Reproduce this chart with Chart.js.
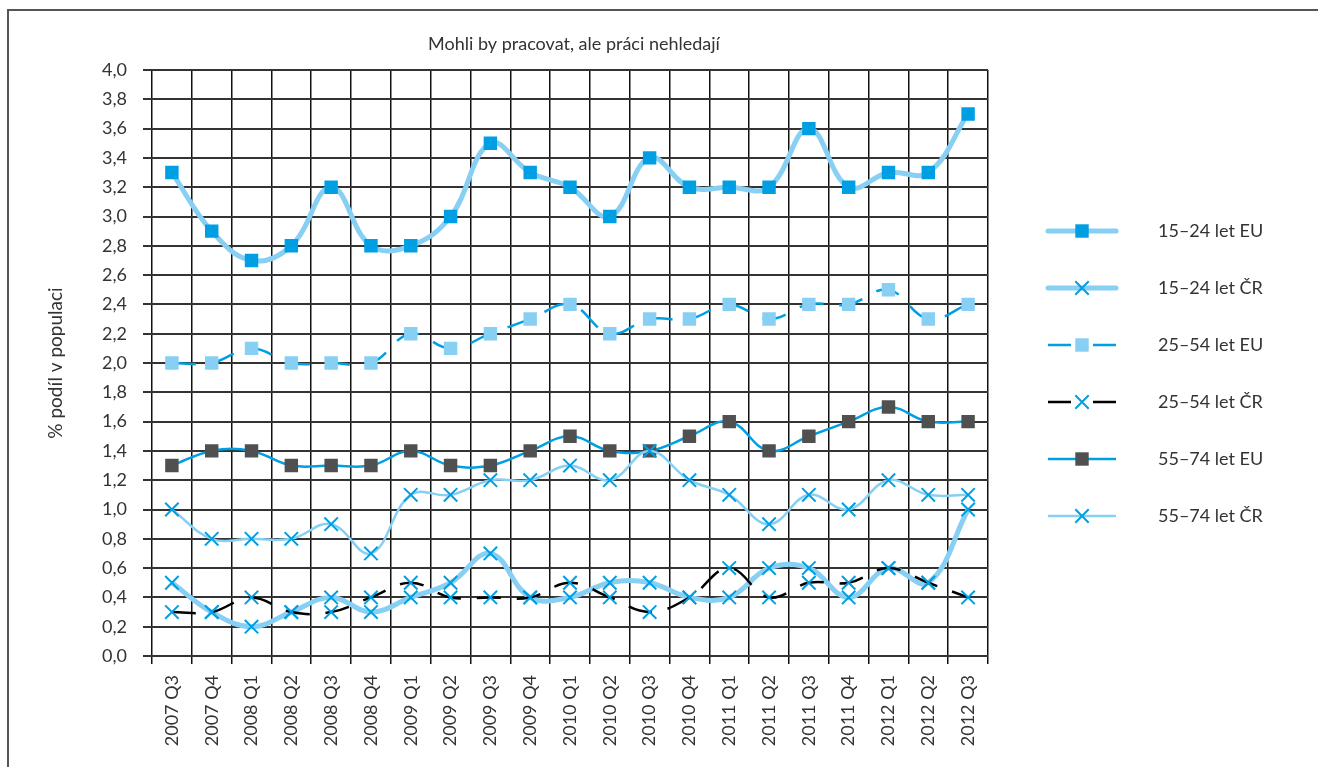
<!DOCTYPE html>
<html lang="cs">
<head>
<meta charset="utf-8">
<title>Mohli by pracovat, ale práci nehledají</title>
<script src="https://cdn.jsdelivr.net/npm/chart.js@4/dist/chart.umd.min.js"></script>
<style>
  html, body { margin: 0; padding: 0; background: #fff; }
  #wrap { width: 1318px; height: 767px; }
</style>
</head>
<body>
<div id="wrap"><canvas id="chart" width="1318" height="767"></canvas></div>
<script>
const quarters = [
  '2007 Q3', '2007 Q4', '2008 Q1', '2008 Q2', '2008 Q3', '2008 Q4',
  '2009 Q1', '2009 Q2', '2009 Q3', '2009 Q4', '2010 Q1', '2010 Q2',
  '2010 Q3', '2010 Q4', '2011 Q1', '2011 Q2', '2011 Q3', '2011 Q4',
  '2012 Q1', '2012 Q2', '2012 Q3'
];

const eu1524 = [3.3, 2.9, 2.7, 2.8, 3.2, 2.8, 2.8, 3.0, 3.5, 3.3, 3.2, 3.0, 3.4, 3.2, 3.2, 3.2, 3.6, 3.2, 3.3, 3.3, 3.7];
const cr1524 = [0.5, 0.3, 0.2, 0.3, 0.4, 0.3, 0.4, 0.5, 0.7, 0.4, 0.4, 0.5, 0.5, 0.4, 0.4, 0.6, 0.6, 0.4, 0.6, 0.5, 1.0];
const eu2554 = [2.0, 2.0, 2.1, 2.0, 2.0, 2.0, 2.2, 2.1, 2.2, 2.3, 2.4, 2.2, 2.3, 2.3, 2.4, 2.3, 2.4, 2.4, 2.5, 2.3, 2.4];
const cr2554 = [0.3, 0.3, 0.4, 0.3, 0.3, 0.4, 0.5, 0.4, 0.4, 0.4, 0.5, 0.4, 0.3, 0.4, 0.6, 0.4, 0.5, 0.5, 0.6, 0.5, 0.4];
const eu5574 = [1.3, 1.4, 1.4, 1.3, 1.3, 1.3, 1.4, 1.3, 1.3, 1.4, 1.5, 1.4, 1.4, 1.5, 1.6, 1.4, 1.5, 1.6, 1.7, 1.6, 1.6];
const cr5574 = [1.0, 0.8, 0.8, 0.8, 0.9, 0.7, 1.1, 1.1, 1.2, 1.2, 1.3, 1.2, 1.4, 1.2, 1.1, 0.9, 1.1, 1.0, 1.2, 1.1, 1.1];

const seriesNames = ['15–24 let EU', '15–24 let ČR', '25–54 let EU', '25–54 let ČR', '55–74 let EU', '55–74 let ČR'];

const BLUE = '#009fe3';
const LIGHT = '#88cff4';
const GRAY = '#505050';
const TEXT = '#333';
const FONT = 'Lato, "Open Sans", sans-serif';
const DASH = [24, 16];

function series(i, data, line, width, style, fill, dash) {
  return {
    label: seriesNames[i],
    data: data,
    borderColor: line,
    borderWidth: width,
    borderDash: dash || [],
    tension: 0.4,
    fill: false,
    pointStyle: style,
    pointRadius: 9.5,
    pointHoverRadius: 9.5,
    pointBackgroundColor: style === 'rect' ? fill : 'rgba(0,0,0,0)',
    pointBorderColor: style === 'rect' ? fill : BLUE,
    pointBorderWidth: style === 'rect' ? 0 : 2,
    order: 6 - i
  };
}

// frame, title and the legend on the right
const decor = {
  id: 'decor',
  afterDraw(chart) {
    const ctx = chart.ctx;
    ctx.save();
    ctx.strokeStyle = '#555';
    ctx.lineWidth = 2;
    ctx.beginPath();
    ctx.moveTo(8, 767);
    ctx.lineTo(8, 10);
    ctx.lineTo(1318, 10);
    ctx.stroke();

    ctx.fillStyle = TEXT;
    ctx.font = '18px ' + FONT;
    ctx.textAlign = 'center';
    ctx.textBaseline = 'middle';
    ctx.fillText('Mohli by pracovat, ale práci nehledají', 574, 44);

    chart.data.datasets.forEach((ds, i) => {
      const y = 231 + i * 57;
      ctx.strokeStyle = ds.borderColor;
      ctx.lineWidth = ds.borderWidth;
      ctx.lineCap = ds.borderWidth > 3 ? 'round' : 'butt';
      ctx.beginPath();
      if (ds.borderDash.length) {
        ctx.moveTo(1048, y); ctx.lineTo(1071, y);
        ctx.moveTo(1093, y); ctx.lineTo(1116, y);
      } else {
        ctx.moveTo(1048, y); ctx.lineTo(1116, y);
      }
      ctx.stroke();

      const s = 6.7;
      if (ds.pointStyle === 'rect') {
        ctx.fillStyle = ds.pointBackgroundColor;
        ctx.fillRect(1082 - s, y - s, 2 * s, 2 * s);
      } else {
        ctx.strokeStyle = ds.pointBorderColor;
        ctx.lineWidth = 2;
        ctx.lineCap = 'butt';
        ctx.beginPath();
        ctx.moveTo(1082 - s, y - s); ctx.lineTo(1082 + s, y + s);
        ctx.moveTo(1082 + s, y - s); ctx.lineTo(1082 - s, y + s);
        ctx.stroke();
      }

      ctx.fillStyle = TEXT;
      ctx.font = '18px ' + FONT;
      ctx.textAlign = 'left';
      ctx.fillText(ds.label, 1158, y);
    });
    ctx.restore();
  }
};

new Chart(document.getElementById('chart'), {
  type: 'line',
  data: {
    labels: quarters,
    datasets: [
      series(0, eu1524, LIGHT, 5, 'rect', BLUE),
      series(1, cr1524, LIGHT, 5, 'crossRot'),
      series(2, eu2554, BLUE, 2.5, 'rect', LIGHT, DASH),
      series(3, cr2554, '#000', 2.5, 'crossRot', null, DASH),
      series(4, eu5574, BLUE, 2.5, 'rect', GRAY),
      series(5, cr5574, LIGHT, 2.5, 'crossRot')
    ]
  },
  options: {
    responsive: false,
    devicePixelRatio: 1,
    animation: false,
    layout: { padding: { top: 70, right: 330, left: 0, bottom: 0 } },
    plugins: {
      legend: { display: false },
      title: { display: false },
      tooltip: { enabled: false }
    },
    scales: {
      x: {
        offset: true,
        grid: { offset: true, color: '#111', lineWidth: 1.5, tickLength: 8 },
        border: { display: false },
        ticks: {
          autoSkip: false,
          minRotation: 90,
          maxRotation: 90,
          padding: 11,
          color: TEXT,
          font: { family: FONT, size: 18 }
        },
        afterFit(scale) { scale.height = 111; }
      },
      y: {
        min: 0,
        max: 4,
        grid: { color: '#333', lineWidth: 2, tickLength: 9 },
        border: { display: false },
        ticks: {
          stepSize: 0.2,
          padding: 16,
          color: TEXT,
          font: { family: FONT, size: 18 },
          callback: v => v.toFixed(1).replace('.', ',')
        },
        title: {
          display: true,
          text: '% podíl v populaci',
          color: TEXT,
          font: { family: FONT, size: 19 },
          padding: { top: 44, bottom: 0 }
        },
        afterFit(scale) { scale.width = 152; }
      }
    }
  },
  plugins: [decor]
});
</script>
</body>
</html>
